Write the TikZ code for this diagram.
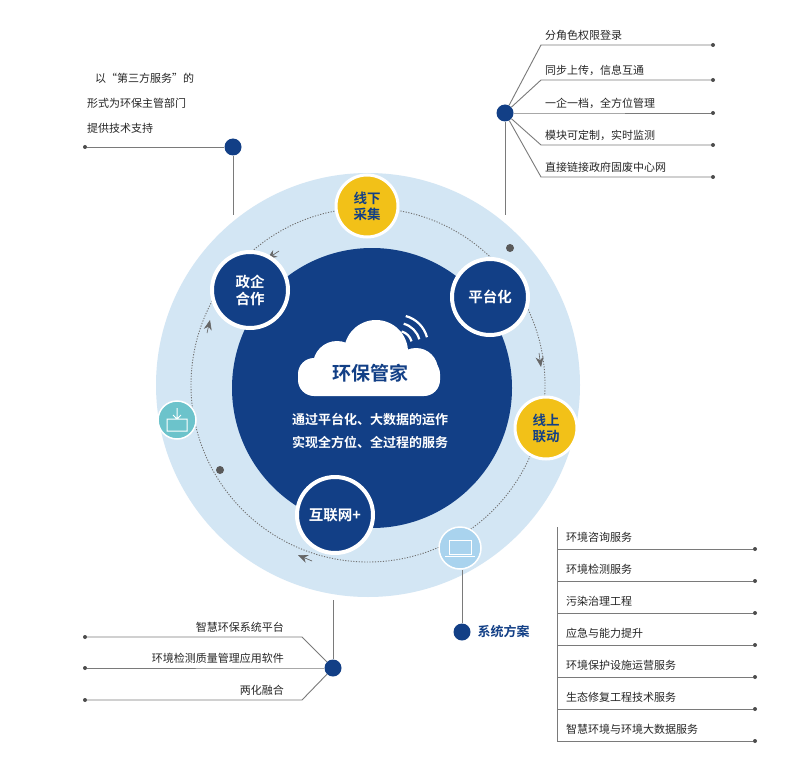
\documentclass[tikz,border=0pt]{standalone}
\usepackage{fontspec}
\setmainfont{Noto Sans CJK SC}
\newfontfamily\cjkb{Noto Sans CJK SC Bold}
\usetikzlibrary{arrows.meta}
\definecolor{dblue}{HTML}{123F86}
\definecolor{lblue}{HTML}{D3E6F4}
\definecolor{yel}{HTML}{F2C118}
\definecolor{gln}{HTML}{7A7A7A}
\definecolor{teal}{HTML}{6CC3CB}
\definecolor{sky}{HTML}{A9D3EE}
\begin{document}
\begin{tikzpicture}[x=1pt,y=-1pt,
 bub/.style={circle,fill=dblue,draw=white,line width=4pt,minimum size=76pt,text=white,font=\cjkb\fontsize{14.5}{17}\selectfont,align=center,inner sep=0},
 ybub/.style={circle,fill=yel,draw=white,line width=3pt,minimum size=62pt,text=dblue,font=\cjkb\fontsize{13.5}{16}\selectfont,align=center,inner sep=0},
 hub/.style={circle,fill=dblue,minimum size=17pt,inner sep=0},
 ed/.style={circle,fill=black!70,minimum size=4pt,inner sep=0},
 bd/.style={circle,fill=black!65,minimum size=8pt,inner sep=0},
 ln/.style={draw=gln,line width=0.9pt},
 lab/.style={font=\fontsize{11}{13}\selectfont,text=black!85,inner sep=1pt},
 dsh/.style={draw=black!55,line width=0.9pt,dash pattern=on 1.2pt off 1.5pt},
 arr/.style={draw=black!60,fill=black!60,line width=0.6pt,-{Stealth[length=10pt,width=8pt]}}]
\useasboundingbox (0,0) rectangle (800,778);
\fill[white] (0,0) rectangle (800,778);
\coordinate (tl) at (233,215); \coordinate (tr) at (505,215);
\coordinate (bl) at (333,600); \coordinate (br) at (462,570);
% circles
\fill[lblue] (368,385) circle (212);
\fill[dblue] (372,388) circle (140);
\draw[dsh] (368,385) circle (177);
\coordinate (a1s) at (210,320); \coordinate (a1e) at (207,333);
\draw[arr] (a1e) -- (a1s);
\coordinate (a2s) at (539,353); \coordinate (a2e) at (541,367);
\draw[arr] (a2s) -- (a2e);
\coordinate (a3s) at (312,561); \coordinate (a3e) at (298,555);
\draw[arr] (a3s) -- (a3e);
\coordinate (a4s) at (279,251); \coordinate (a4e) at (267,259);
\draw[arr] (a4s) -- (a4e);
\node[bd] (dt1) at (510,248) {};
\node[bd] (dt2) at (220,470) {};
% cloud
\fill[white,rounded corners=16pt] (298,358) rectangle (440,396);
\fill[white] (337,365) circle (24);
\fill[white] (376,352) circle (32);
\fill[white] (416,370) circle (22);
\node[font=\cjkb\fontsize{19}{22}\selectfont,text=dblue] (cl) at (370,373) {环保管家};
\foreach \r in {14,22,30}
  \draw[white,line width=2.2pt] (398,345) ++(-15:\r) arc[start angle=-15,end angle=-75,radius=\r];
\node[font=\cjkb\fontsize{13}{23}\selectfont,text=white,align=center] (sub) at (370,431) {通过平台化、大数据的运作\\实现全方位、全过程的服务};
% bubbles
\node[bub] (zq) at (250,290) {政企\\合作};
\node[bub] (pt) at (490,297) {平台化};
\node[bub] (hl) at (335,515) {互联网+};
\node[ybub] (xx) at (367,206) {线下\\采集};
\node[ybub] (xs) at (546,428) {线上\\联动};
% icons
\node[circle,fill=teal,draw=white,line width=1.5pt,minimum size=38pt] (ic1) at (177,420) {};
\draw[white,line width=1pt] (167,419) rectangle (187,431) (177,408) -- (177,419) (173,415) -- (177,419) -- (181,415);
\node[circle,fill=sky,draw=white,line width=1.5pt,minimum size=42pt] (ic2) at (460,548) {};
\draw[white,line width=1pt] (449,540) rectangle (471,554) (445,556) -- (475,556);
% top-left
\node[hub] (h1) at (233,147) {};
\node[ed] (e1) at (85,147) {};
\draw[ln] (e1) -- (h1) -- (tl);
\node[lab,anchor=west] (t1) at (94,78) {以“第三方服务”的};
\node[lab,anchor=west] (t2) at (86,103) {形式为环保主管部门};
\node[lab,anchor=west] (t3) at (86,128) {提供技术支持};
% top-right
\node[hub] (h2) at (505,113) {};
\draw[ln] (h2) -- (tr);
\foreach \y/\t [count=\i] in {45/分角色权限登录,80/同步上传，信息互通,113/一企一档，全方位管理,145/模块可定制，实时监测,177/直接链接政府固废中心网}{
  \node[ed] (r\i) at (713,\y) {};
  \draw[ln] (h2) -- (541,\y) -- (r\i);
  \node[lab,anchor=south west] (rt\i) at (544,\y-3) {\t};
}
% bottom-left
\node[hub] (h3) at (333,668) {};
\draw[ln] (h3) -- (bl);
\foreach \y/\t [count=\i] in {637/智慧环保系统平台,668/环境检测质量管理应用软件,700/两化融合}{
  \node[ed] (l\i) at (85,\y) {};
  \draw[ln] (h3) -- (302,\y) -- (l\i);
  \node[lab,anchor=south east] (lt\i) at (285,\y-3) {\t};
}
% bottom-right
\node[hub] (h4) at (462,632) {};
\draw[ln] (h4) -- (br);
\node[font=\cjkb\fontsize{13}{15}\selectfont,text=dblue,anchor=west] (sf) at (474,632) {系统方案};
\draw[ln] (557,527) -- (557,741);
\foreach \y/\t [count=\i] in {549/环境咨询服务,581/环境检测服务,613/污染治理工程,645/应急与能力提升,677/环境保护设施运营服务,709/生态修复工程技术服务,741/智慧环境与环境大数据服务}{
  \node[ed] (b\i) at (755,\y) {};
  \draw[ln] (557,\y) -- (b\i);
  \node[lab,anchor=south west] (bt\i) at (565,\y-5) {\t};
}
\end{tikzpicture}
\end{document}
